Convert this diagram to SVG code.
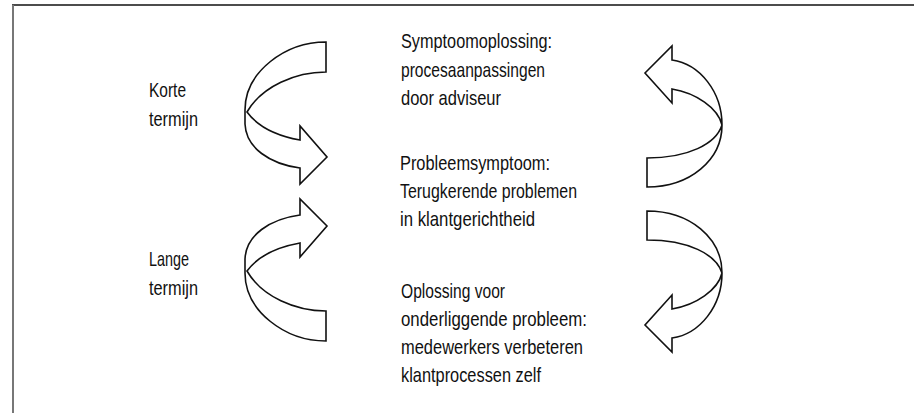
<svg xmlns="http://www.w3.org/2000/svg" width="914" height="413" viewBox="0 0 914 413">
<style>
.arrow{fill:#fff;stroke:#111;stroke-width:1.6;stroke-linejoin:miter}
.t{font-family:"Liberation Sans","DejaVu Sans",sans-serif;font-size:21px;fill:#111}
</style>
<defs>
<path id="arrL" class="arrow" d="M326,42 L326,72 C296,72 262,86 247,112 C258,127 278,136 300,140 L300,126 L327,157 L300,184 L300,168 C270,164 246,148 245,124 L245,110 C245,72 285,42 326,42 Z"/>
<path id="arrR" class="arrow" d="M647,158 L647,187 C690,187 722,160 722,125 C722,92 700,64 672,60 L672,46 L645,73 L672,103 L672,89 C696,93 718,108 722,125 C716,144 688,158 647,158 Z"/>
</defs>
<g id="frame">
<line x1="12" y1="5" x2="914" y2="5" stroke="#111" stroke-width="1.6"/>
<line x1="13" y1="5" x2="13" y2="413" stroke="#777" stroke-width="2"/>
</g>
<g id="connectors">
<use href="#arrL"/>
<use href="#arrL" transform="translate(0,383) scale(1,-1)"/>
<use href="#arrR"/>
<use href="#arrR" transform="translate(0,398) scale(1,-1)"/>
</g>
<g id="korte">
<text class="t" x="149" y="97" textLength="37" lengthAdjust="spacingAndGlyphs">Korte</text>
<text class="t" x="149" y="126" textLength="49" lengthAdjust="spacingAndGlyphs">termijn</text>
</g>
<g id="lange">
<text class="t" x="149" y="266" textLength="40" lengthAdjust="spacingAndGlyphs">Lange</text>
<text class="t" x="149" y="295" textLength="49" lengthAdjust="spacingAndGlyphs">termijn</text>
</g>
<g id="symptoomoplossing">
<text class="t" x="401" y="48" textLength="151" lengthAdjust="spacingAndGlyphs">Symptoomoplossing:</text>
<text class="t" x="401" y="77" textLength="144" lengthAdjust="spacingAndGlyphs">procesaanpassingen</text>
<text class="t" x="401" y="105" textLength="100" lengthAdjust="spacingAndGlyphs">door adviseur</text>
</g>
<g id="probleemsymptoom">
<text class="t" x="400" y="170" textLength="150" lengthAdjust="spacingAndGlyphs">Probleemsymptoom:</text>
<text class="t" x="400" y="198" textLength="177" lengthAdjust="spacingAndGlyphs">Terugkerende problemen</text>
<text class="t" x="400" y="226" textLength="135" lengthAdjust="spacingAndGlyphs">in klantgerichtheid</text>
</g>
<g id="oplossing">
<text class="t" x="401" y="298" textLength="104" lengthAdjust="spacingAndGlyphs">Oplossing voor</text>
<text class="t" x="401" y="326" textLength="186" lengthAdjust="spacingAndGlyphs">onderliggende probleem:</text>
<text class="t" x="401" y="354" textLength="182" lengthAdjust="spacingAndGlyphs">medewerkers verbeteren</text>
<text class="t" x="401" y="382" textLength="140" lengthAdjust="spacingAndGlyphs">klantprocessen zelf</text>
</g>
</svg>
